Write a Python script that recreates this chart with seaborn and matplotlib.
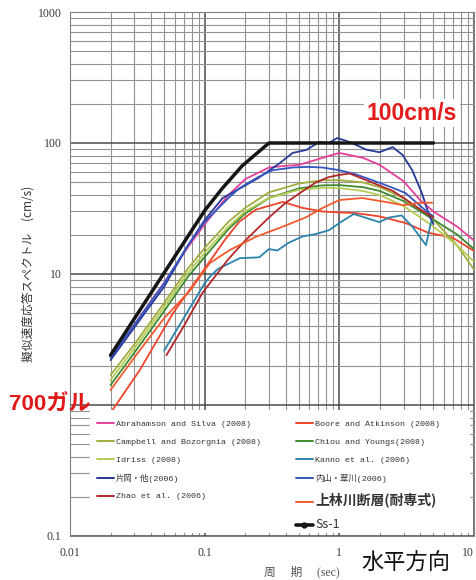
import numpy as np
import pandas as pd
import matplotlib
matplotlib.use("Agg")
import matplotlib.pyplot as plt
from matplotlib.lines import Line2D
from matplotlib.patches import Rectangle
from matplotlib.ticker import LogLocator, FixedLocator, NullFormatter
import seaborn as sns

# ---- pseudo-velocity response spectra (period [s], PSV [cm/s]) ----
ss1_T = [0.02, 0.1, 0.135, 0.19, 0.3, 5.0]
ss1_V = [2.4, 30.5, 45, 67, 100, 100]

as08_T = [0.02, 0.03, 0.05, 0.075, 0.1, 0.15, 0.2, 0.3, 0.4, 0.5, 0.75, 1.0, 1.5, 2.0, 3.0, 4.0, 5.0, 7.5, 10.0]
as08_V = [2.3, 4.1, 8.6, 16.0, 24.0, 40.0, 53.0, 65.0, 67.0, 68.0, 77.0, 84.0, 77.0, 68.0, 51.0, 36.5, 30.0, 23.0, 18.0]

ba08_T = [0.02, 0.033, 0.058, 0.095, 0.14, 0.18, 0.24, 0.38, 0.53, 0.75, 1.0, 1.3, 2.0, 3.1, 4.6, 6.9, 10.0]
ba08_V = [0.87, 1.85, 5.0, 10.2, 18.0, 25.0, 31.0, 35.5, 32.0, 30.0, 29.5, 29.2, 27.5, 24.5, 20.6, 19.0, 15.0]

cb08_T = [0.02, 0.03, 0.05, 0.075, 0.1, 0.15, 0.2, 0.3, 0.5, 0.75, 1.0, 1.5, 2.0, 3.0, 4.0, 5.0, 7.5, 10.0]
cb08_V = [1.69, 2.9, 6.0, 11.0, 15.8, 25.0, 32.0, 42.0, 49.0, 52.0, 52.0, 50.0, 46.0, 38.0, 31.0, 26.0, 16.5, 10.8]

cy08_T = [0.02, 0.03, 0.05, 0.075, 0.1, 0.15, 0.2, 0.3, 0.5, 0.75, 1.0, 1.5, 2.0, 3.0, 4.0, 5.0, 7.5, 10.0]
cy08_V = [1.42, 2.5, 5.2, 9.5, 13.5, 22.0, 29.0, 38.0, 45.0, 47.5, 47.7, 46.0, 43.0, 36.0, 30.0, 26.0, 20.0, 15.5]

id08_T = [0.02, 0.03, 0.05, 0.075, 0.1, 0.15, 0.2, 0.3, 0.5, 0.75, 1.0, 1.5, 2.0, 3.0, 4.0, 5.0, 7.5, 10.0]
id08_V = [1.55, 2.7, 5.6, 10.2, 14.5, 23.0, 30.0, 38.0, 44.0, 45.5, 45.3, 43.0, 40.0, 33.0, 27.0, 23.0, 16.5, 12.4]

kanno_T = [0.05, 0.075, 0.1, 0.109, 0.125, 0.182, 0.254, 0.30, 0.346, 0.42, 0.53, 0.67, 0.84, 1.0, 1.28, 1.98, 2.35, 2.9, 3.5, 4.4, 4.8]
kanno_V = [2.6, 5.2, 8.5, 9.5, 10.9, 13.2, 13.4, 15.5, 15.1, 17.3, 19.3, 20.2, 21.6, 24.5, 28.7, 24.9, 27.0, 28.0, 22.9, 16.6, 25.0]

kataoka_T = [0.02, 0.03, 0.05, 0.075, 0.1, 0.136, 0.19, 0.25, 0.36, 0.45, 0.57, 0.71, 0.84, 0.96, 1.09, 1.24, 1.58, 1.98, 2.49, 2.95, 3.48, 4.1, 4.65, 5.0]
kataoka_V = [2.2, 3.9, 8.0, 16.5, 25.8, 38.0, 46.0, 54.0, 70.0, 84.0, 88.6, 102.0, 100.0, 109.0, 105.0, 100.0, 89.0, 85.0, 93.0, 81.0, 62.0, 41.5, 28.0, 24.0]

uchiyama_T = [0.02, 0.03, 0.05, 0.075, 0.1, 0.15, 0.18, 0.25, 0.32, 0.45, 0.57, 0.75, 1.0, 1.3, 1.76, 2.3, 3.1, 4.0, 4.65, 5.0]
uchiyama_V = [2.3, 4.1, 8.5, 16.5, 25.0, 38.0, 45.0, 55.0, 62.0, 65.0, 65.7, 65.0, 62.0, 58.0, 52.0, 47.0, 41.5, 33.0, 29.0, 27.5]

zhao_T = [0.052, 0.07, 0.0965, 0.15, 0.2, 0.3, 0.4, 0.51, 0.67, 0.84, 1.0, 1.19, 1.75, 2.5, 3.0, 4.0, 5.0]
zhao_V = [2.4, 4.0, 7.2, 13.0, 18.0, 27.0, 35.0, 41.5, 50.0, 55.0, 57.0, 58.5, 50.0, 43.0, 38.0, 31.0, 27.0]

kambayashi_T = [0.02, 0.03, 0.05, 0.078, 0.109, 0.153, 0.242, 0.377, 0.57, 0.75, 1.0, 1.48, 2.2, 3.0, 4.0, 4.9]
kambayashi_V = [1.30, 2.3, 4.6, 7.5, 12.1, 15.2, 19.3, 22.9, 27.2, 31.9, 36.7, 38.0, 35.5, 33.5, 35.0, 35.0]

x_ticks = [0.01, 0.1, 1, 10]
x_ticklabels = ["0.01", "0.1", "1", "10"]
y_ticks = [0.1, 1, 10, 100, 1000]
y_ticklabels = ["0.1", "", "10", "100", "1000"]

labels = {
    "as08": "Abrahamson and Silva (2008)",
    "ba08": "Boore and Atkinson (2008)",
    "cb08": "Campbell and Bozorgnia (2008)",
    "cy08": "Chiou and Youngs(2008)",
    "id08": "Idriss (2008)",
    "kanno": "Kanno et al. (2006)",
    "kataoka": "片岡・他(2006)",
    "uchiyama": "内山・翠川(2006)",
    "zhao": "Zhao et al. (2006)",
    "kambayashi": "上林川断層(耐専式)",
    "ss1": "Ss-1",
}

colors = {
    "as08": "#e8409a",
    "ba08": "#f0442a",
    "cb08": "#a3ad3e",
    "cy08": "#3e8a2e",
    "id08": "#b5cc55",
    "kanno": "#2b84ad",
    "kataoka": "#283a98",
    "uchiyama": "#3556c0",
    "zhao": "#b3262a",
    "kambayashi": "#f25a2e",
    "ss1": "#151515",
}

series = {
    "as08": (as08_T, as08_V),
    "ba08": (ba08_T, ba08_V),
    "cb08": (cb08_T, cb08_V),
    "cy08": (cy08_T, cy08_V),
    "id08": (id08_T, id08_V),
    "kanno": (kanno_T, kanno_V),
    "kataoka": (kataoka_T, kataoka_V),
    "uchiyama": (uchiyama_T, uchiyama_V),
    "zhao": (zhao_T, zhao_V),
    "kambayashi": (kambayashi_T, kambayashi_V),
}

df = pd.concat(
    [pd.DataFrame({"period": T, "psv": V, "model": labels[k]}) for k, (T, V) in series.items()],
    ignore_index=True,
)
palette = {labels[k]: colors[k] for k in series}

sns.set_theme(style="white")
plt.rcParams["font.family"] = ["Liberation Serif", "Noto Sans CJK JP"]

fig = plt.figure(figsize=(4.77, 5.80), dpi=100)
ax = fig.add_axes([0.1468, 0.0759, 0.9937 - 0.1468, 0.9793 - 0.0759])
ax.set_xscale("log")
ax.set_yscale("log")

sns.lineplot(data=df, x="period", y="psv", hue="model", hue_order=[labels[k] for k in series],
             palette=palette, estimator=None, sort=True, linewidth=1.3, legend=False, ax=ax)
sns.lineplot(x=ss1_T, y=ss1_V, color=colors["ss1"], linewidth=2.5, estimator=None,
             sort=False, legend=False, ax=ax, zorder=4)

ax.set_xlim(0.01, 10)
ax.set_ylim(0.1, 1000)

# log-paper grid
ax.xaxis.set_major_locator(FixedLocator(x_ticks))
ax.xaxis.set_minor_locator(LogLocator(base=10, subs=np.arange(2, 10)))
ax.xaxis.set_minor_formatter(NullFormatter())
ax.yaxis.set_major_locator(FixedLocator(y_ticks))
ax.yaxis.set_minor_locator(LogLocator(base=10, subs=np.arange(2, 10)))
ax.yaxis.set_minor_formatter(NullFormatter())
ax.set_xticks(x_ticks, x_ticklabels)
ax.set_yticks(y_ticks, y_ticklabels)
ax.grid(True, which="major", color="#4a4a4a", linewidth=1.1)
ax.grid(True, which="minor", color="#939393", linewidth=0.8)
ax.set_axisbelow(True)
ax.tick_params(which="both", length=0, labelsize=8.5, colors="#3a3a3a")
ax.tick_params(axis="x", pad=8)
ax.tick_params(axis="y", pad=6)
ax.get_xticklabels()[-1].set_horizontalalignment("right")
for s in ax.spines.values():
    s.set_color("#808080")
    s.set_linewidth(0.8)
ax.set_xlabel("")
ax.set_ylabel("")

# white panel behind the legend
ax.add_patch(Rectangle((0.0495, 0.0057), 0.9405, 0.2348, transform=ax.transAxes,
                       facecolor="white", edgecolor="none", zorder=4.5))

# legend: two columns
left_keys = ["as08", "cb08", "id08", "kataoka", "zhao", None]
right_keys = ["ba08", "cy08", "kanno", "uchiyama", "kambayashi", "ss1"]
handles, texts = [], []
for k in left_keys + right_keys:
    if k is None:
        handles.append(Line2D([0], [0], color="none"))
        texts.append(" ")
    elif k == "ss1":
        handles.append(Line2D([0], [0], color=colors[k], linewidth=2.6, marker="o", markersize=3.5))
        texts.append(labels[k])
    else:
        handles.append(Line2D([0], [0], color=colors[k], linewidth=1.4))
        texts.append(labels[k])

leg = ax.legend(handles, texts, ncol=2, loc="upper left", bbox_to_anchor=(0.048, 0.2354),
                borderaxespad=0, frameon=False,
                prop={"family": ["Liberation Mono", "Noto Sans CJK JP"], "size": 6},
                handlelength=2.0, handletextpad=0.3, labelspacing=1.2,
                columnspacing=4.2, borderpad=0.9, numpoints=1)
for t in leg.get_texts():
    t.set_color("#333333")
    if t.get_text() == labels["kambayashi"]:
        t.set_fontsize(10)
        t.set_fontweight("bold")
        t.set_family(["Noto Sans CJK JP"])
    elif t.get_text() == labels["ss1"]:
        t.set_fontsize(9)
        t.set_family(["Noto Sans CJK JP"])

# annotations
fig.text(0.8637, 0.805, "100cm/s", color="#e31b1b", fontsize=16.5, fontweight="bold",
         family=["Liberation Sans"], ha="center", va="center",
         bbox=dict(facecolor="white", edgecolor="none", pad=2))
fig.text(0.105, 0.3034, "700ガル", color="#e01818", fontsize=16, fontweight="bold",
         family=["Liberation Sans", "Noto Sans CJK JP"], ha="center", va="center")
fig.text(0.851, 0.0293, "水平方向", color="#111111", fontsize=16,
         family=["Noto Sans CJK JP"], ha="center", va="center")
fig.text(0.632, 0.0138, "周　 期　 (sec)", color="#555555", fontsize=8.5,
         family=["Liberation Serif", "Noto Sans CJK JP"], ha="center", va="center")
fig.text(0.059, 0.527, "擬似速度応答スペクトル　(cm/s)", color="#333333", fontsize=8.5,
         family=["Noto Sans CJK JP"], rotation=90, ha="center", va="center")

fig.savefig("out.png", dpi=100)
